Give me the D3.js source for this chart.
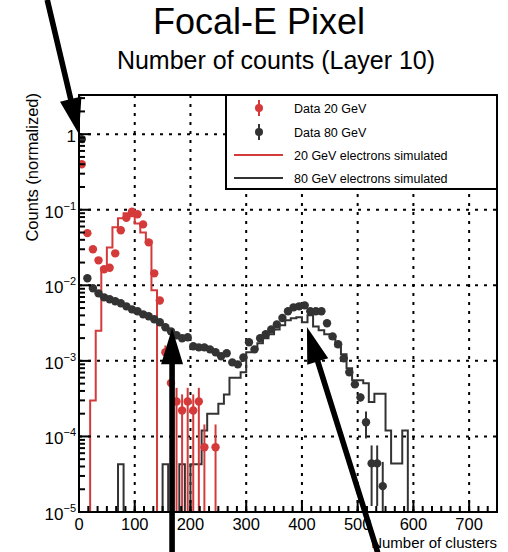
<!DOCTYPE html>
<html>
<head>
<meta charset="utf-8">
<script src="https://cdn.jsdelivr.net/npm/d3@7"></script>
<style>
  body { margin: 0; background: #fff; }
  text { font-family: "Liberation Sans", Arial, sans-serif; }
</style>
</head>
<body>
<script>
// bins are 10 clusters wide, starting at 0
var binWidth = 10;

// Data 20 GeV (red points), null = empty bin
var red20Data = [0.40, 0.049, 0.030, 0.0214, 0.0163, 0.0171, 0.0265, 0.0535, 0.078, 0.094,
    0.087, 0.064, 0.037, 0.0144, 0.0063, 0.0013, 0.00051, 0.00029, 0.00022, 0.00029,
    0.00022, 0.00029, 0.000072, null, 0.000072];
// upper / lower error bar lengths
var red20ErrUp = [0, 0, 0, 0, 0, 0, 0, 0, 0, 0,
    0, 0, 0, 0, 0, 0.0003, 0.00019, 0.00015, 0.00014, 0.00015,
    0.00014, 0.00015, 0.000072, 0, 0.000072];
var red20ErrDn = [0, 0, 0, 0, 0, 0, 0, 0, 0, 0,
    0, 0, 0, 0, 0, 0.0003, 0.00019, 0.00029, 0.00022, 0.00029,
    0.00022, 0.00029, 0.000072, 0, 0.000072];

// Data 80 GeV (black points)
var black80Data = [0.859, 0.0124, 0.00913, 0.00783, 0.00693, 0.00653, 0.00614, 0.00578, 0.00527, 0.00481,
    0.00453, 0.00413, 0.00389, 0.00355, 0.00324, 0.00278, 0.00246, 0.00218, 0.00199, 0.00205,
    0.00156, 0.00151, 0.00151, 0.00142, 0.00130, 0.00115, 0.00126, 0.000955, 0.000899, 0.00111,
    0.00176, 0.00142, 0.00199, 0.00225, 0.00261, 0.00304, 0.00370, 0.00453, 0.00511, 0.00527,
    0.00543, 0.00453, 0.00453, 0.00453, 0.00314, 0.00211, 0.00166, 0.00108, 0.000705, 0.000489,
    0.000329, 0.000154, 0.000044, 0.000044, 0.000022];
var black80Err = [0, 0, 0, 0, 0, 0, 0, 0, 0, 0,
    0, 0, 0, 0, 0, 0, 0, 0, 0, 0,
    0, 0, 0, 0, 0, 0, 0, 0, 0, 0,
    0, 0, 0, 0, 0, 0, 0, 0, 0, 0,
    0, 0, 0, 0, 0, 0, 0, 0, 0, 0.000033,
    0.00004, 0.00006, 0.000032, 0.000032, 0.000024];

// 20 GeV electrons simulated (red histogram)
var red20Sim = [0, 0, 0.0003, 0.0025, 0.0168, 0.0317, 0.0588, 0.077, 0.09, 0.082,
    0.066, 0.05, 0.039, 0.0086, 0, 0, 0, 0, 0, 0,
    0, 0, 0, 0, 0, 0, 0, 0, 0, 0,
    0, 0, 0, 0, 0, 0, 0, 0, 0, 0,
    0, 0, 0, 0, 0, 0, 0, 0, 0, 0,
    0, 0, 0, 0, 0, 0, 0, 0, 0];

// 80 GeV electrons simulated (black histogram)
var black80Sim = [0, 0, 0, 0, 0, 0, 0, 0.000043, 0, 0,
    0, 0, 0, 0, 0, 0.000043, 0, 0, 0.000043, 0,
    0.000043, 0.000043, 0.00012, 0.0002, 0.0002, 0.00027, 0.00036, 0.0006, 0.0006, 0.000705,
    0.0013, 0.00146, 0.00171, 0.00199, 0.00225, 0.00261, 0.00295, 0.00344, 0.00366, 0.00377,
    0.00324, 0.00401, 0.00286, 0.00254, 0.00225, 0.00199, 0.00156, 0.00122, 0.000796, 0.000552,
    0.000552, 0.000504, 0.000285, 0.000368, 0.000368, 0.00012, 0.000044, 0.000044, 0.00012];

var xTicks = [0, 100, 200, 300, 400, 500, 600, 700];
var yTicks = [1e-5, 1e-4, 1e-3, 1e-2, 1e-1, 1];
var yTickExp = ["\u22125", "\u22124", "\u22123", "\u22122", "\u22121", ""];

var legendLabels = ["Data 20 GeV", "Data 80 GeV", "20 GeV electrons simulated", "80 GeV electrons simulated"];

// annotation arrows, in data units: [tailX, tailY, tipX, tipY]
var arrows = [
    [-57, 60, 0, 1.0],
    [167, 2.9e-6, 167, 2.7e-3],
    [536, 2.9e-6, 409, 2.8e-3]
];

var width = 508,
    height = 552,
    padL = 79, padR = 497, padT = 95, padB = 512,
    redColor = "#d43a3a",
    darkColor = "#333333";

var x = d3.scaleLinear().domain([0, 750]).range([padL, padR]),
    y = d3.scaleLog().domain([1e-5, 3.3]).range([padB, padT]);

var svg = d3.select("body")
    .append("svg")
    .attr("width", width)
    .attr("height", height);

svg.append("defs").append("clipPath")
    .attr("id", "plot")
    .append("rect")
    .attr("x", padL).attr("y", padT)
    .attr("width", padR - padL).attr("height", padB - padT);

// titles
svg.append("text")
    .attr("x", 259).attr("y", 34)
    .attr("text-anchor", "middle")
    .style("font-size", "36px")
    .text("Focal-E Pixel");

svg.append("text")
    .attr("x", 276).attr("y", 69)
    .attr("text-anchor", "middle")
    .style("font-size", "25px")
    .text("Number of counts (Layer 10)");

// grid
var grid = svg.append("g")
    .attr("stroke", "#000")
    .attr("stroke-width", 2)
    .attr("stroke-dasharray", "3,6");

grid.selectAll("line.gx")
    .data(xTicks.slice(1))
    .enter()
    .append("line")
    .attr("x1", function(d) { return x(d); })
    .attr("x2", function(d) { return x(d); })
    .attr("y1", padB).attr("y2", padT);

grid.selectAll("line.gy")
    .data(yTicks.slice(1))
    .enter()
    .append("line")
    .attr("x1", padL).attr("x2", padR)
    .attr("y1", function(d) { return y(d); })
    .attr("y2", function(d) { return y(d); });

// histograms drawn as steps
function yc(v) {
    return v > 1e-5 ? y(v) : padB;
}

function stepPath(values) {
    var pts = [[0, 0]];
    values.forEach(function(v, i) {
        pts.push([i * binWidth, v]);
    });
    pts.push([values.length * binWidth, values[values.length - 1]]);
    pts.push([values.length * binWidth, 0]);
    return d3.line()
        .x(function(d) { return x(d[0]); })
        .y(function(d) { return yc(d[1]); })
        .curve(d3.curveStepAfter)(pts);
}

var plot = svg.append("g").attr("clip-path", "url(#plot)");

plot.append("path")
    .attr("d", stepPath(red20Sim))
    .attr("fill", "none")
    .attr("stroke", redColor)
    .attr("stroke-width", 2);

plot.append("path")
    .attr("d", stepPath(black80Sim))
    .attr("fill", "none")
    .attr("stroke", darkColor)
    .attr("stroke-width", 2);

// data points with error bars
function drawPoints(values, errUp, errDn, color) {
    var pts = [];
    values.forEach(function(v, i) {
        if (v !== null) pts.push({ c: (i + 0.5) * binWidth, v: v, up: errUp[i], dn: errDn[i] });
    });
    var g = plot.append("g");
    g.selectAll("line")
        .data(pts.filter(function(d) { return d.up > 0; }))
        .enter()
        .append("line")
        .attr("x1", function(d) { return x(d.c); })
        .attr("x2", function(d) { return x(d.c); })
        .attr("y1", function(d) { return yc(d.v + d.up); })
        .attr("y2", function(d) { return yc(d.v - d.dn); })
        .attr("stroke", color)
        .attr("stroke-width", 2);
    g.selectAll("circle")
        .data(pts)
        .enter()
        .append("circle")
        .attr("r", 4.2)
        .attr("cx", function(d) { return x(d.c); })
        .attr("cy", function(d) { return y(d.v); })
        .attr("fill", color);
}

drawPoints(red20Data, red20ErrUp, red20ErrDn, redColor);
drawPoints(black80Data, black80Err, black80Err, darkColor);

// axes: ticks point inward, ROOT style
var axes = svg.append("g").attr("stroke", "#000").attr("stroke-width", 2);

axes.selectAll("line.xmaj")
    .data(xTicks)
    .enter()
    .append("line")
    .attr("x1", function(d) { return x(d); })
    .attr("x2", function(d) { return x(d); })
    .attr("y1", padB).attr("y2", padB - 12);

axes.selectAll("line.xmin")
    .data(d3.range(0, 750, 100 / 6))
    .enter()
    .append("line")
    .attr("x1", function(d) { return x(d); })
    .attr("x2", function(d) { return x(d); })
    .attr("y1", padB).attr("y2", padB - 6);

var yMinor = [];
d3.range(-5, 1).forEach(function(p) {
    d3.range(2, 10).forEach(function(m) {
        var v = m * Math.pow(10, p);
        if (v < 3.3) yMinor.push(v);
    });
});

axes.selectAll("line.ymin")
    .data(yMinor)
    .enter()
    .append("line")
    .attr("x1", padL).attr("x2", padL + 6)
    .attr("y1", function(d) { return y(d); })
    .attr("y2", function(d) { return y(d); });

axes.selectAll("line.ymaj")
    .data(yTicks)
    .enter()
    .append("line")
    .attr("x1", padL).attr("x2", padL + 12)
    .attr("y1", function(d) { return y(d); })
    .attr("y2", function(d) { return y(d); });

// frame
svg.append("rect")
    .attr("x", padL).attr("y", padT)
    .attr("width", padR - padL).attr("height", padB - padT)
    .attr("fill", "none")
    .attr("stroke", "#000")
    .attr("stroke-width", 2);

// tick labels
svg.selectAll("text.xl")
    .data(xTicks)
    .enter()
    .append("text")
    .attr("x", function(d) { return x(d); })
    .attr("y", 530)
    .attr("text-anchor", "middle")
    .style("font-size", "16.5px")
    .text(function(d) { return d; });

var yl = svg.selectAll("text.yl")
    .data(yTicks)
    .enter()
    .append("text")
    .attr("x", 76)
    .attr("y", function(d) { return y(d) + 8; })
    .attr("text-anchor", "end")
    .style("font-size", "17px");

yl.append("tspan")
    .text(function(d, i) { return yTickExp[i] === "" ? "1" : "10"; });
yl.append("tspan")
    .attr("dy", -8)
    .style("font-size", "11px")
    .text(function(d, i) { return yTickExp[i]; });

// axis titles
svg.append("text")
    .attr("x", padR).attr("y", 548)
    .attr("text-anchor", "end")
    .style("font-size", "15px")
    .text("Number of clusters");

svg.append("text")
    .attr("transform", "translate(38," + (padT - 2) + ") rotate(-90)")
    .attr("text-anchor", "end")
    .style("font-size", "16.5px")
    .text("Counts (normalized)");

// legend
var legend = svg.append("g");
legend.append("rect")
    .attr("x", 226).attr("y", padT)
    .attr("width", padR - 226).attr("height", 94)
    .attr("fill", "#fff")
    .attr("stroke", "#000")
    .attr("stroke-width", 2);

var rowY = [108, 132, 155, 178];
legendLabels.forEach(function(label, i) {
    var color = (i % 2 === 0) ? redColor : darkColor;
    if (i < 2) {
        legend.append("line")
            .attr("x1", 259).attr("x2", 259)
            .attr("y1", rowY[i] - 8).attr("y2", rowY[i] + 8)
            .attr("stroke", color).attr("stroke-width", 2);
        legend.append("circle")
            .attr("cx", 259).attr("cy", rowY[i]).attr("r", 4)
            .attr("fill", color);
    } else {
        legend.append("line")
            .attr("x1", 234).attr("x2", 283)
            .attr("y1", rowY[i]).attr("y2", rowY[i])
            .attr("stroke", color).attr("stroke-width", 2);
    }
    legend.append("text")
        .attr("x", 294).attr("y", rowY[i] + 4.5)
        .style("font-size", "12.5px")
        .text(label);
});

// annotation arrows
function arrow(a) {
    var x0 = x(a[0]), y0 = y(a[1]), x1 = x(a[2]), y1 = y(a[3]);
    var dx = x1 - x0, dy = y1 - y0, len = Math.sqrt(dx * dx + dy * dy);
    var ux = dx / len, uy = dy / len, px = -uy, py = ux;
    var head = 36, half = 11, shaft = 2.8;
    var bx = x1 - ux * head, by = y1 - uy * head;
    var pts = [
        [x0 + px * shaft, y0 + py * shaft],
        [bx + px * shaft, by + py * shaft],
        [bx + px * half, by + py * half],
        [x1, y1],
        [bx - px * half, by - py * half],
        [bx - px * shaft, by - py * shaft],
        [x0 - px * shaft, y0 - py * shaft]
    ];
    svg.append("polygon")
        .attr("points", pts.map(function(p) { return p.join(","); }).join(" "))
        .attr("fill", "#000");
}

arrows.forEach(arrow);
</script>
</body>
</html>
